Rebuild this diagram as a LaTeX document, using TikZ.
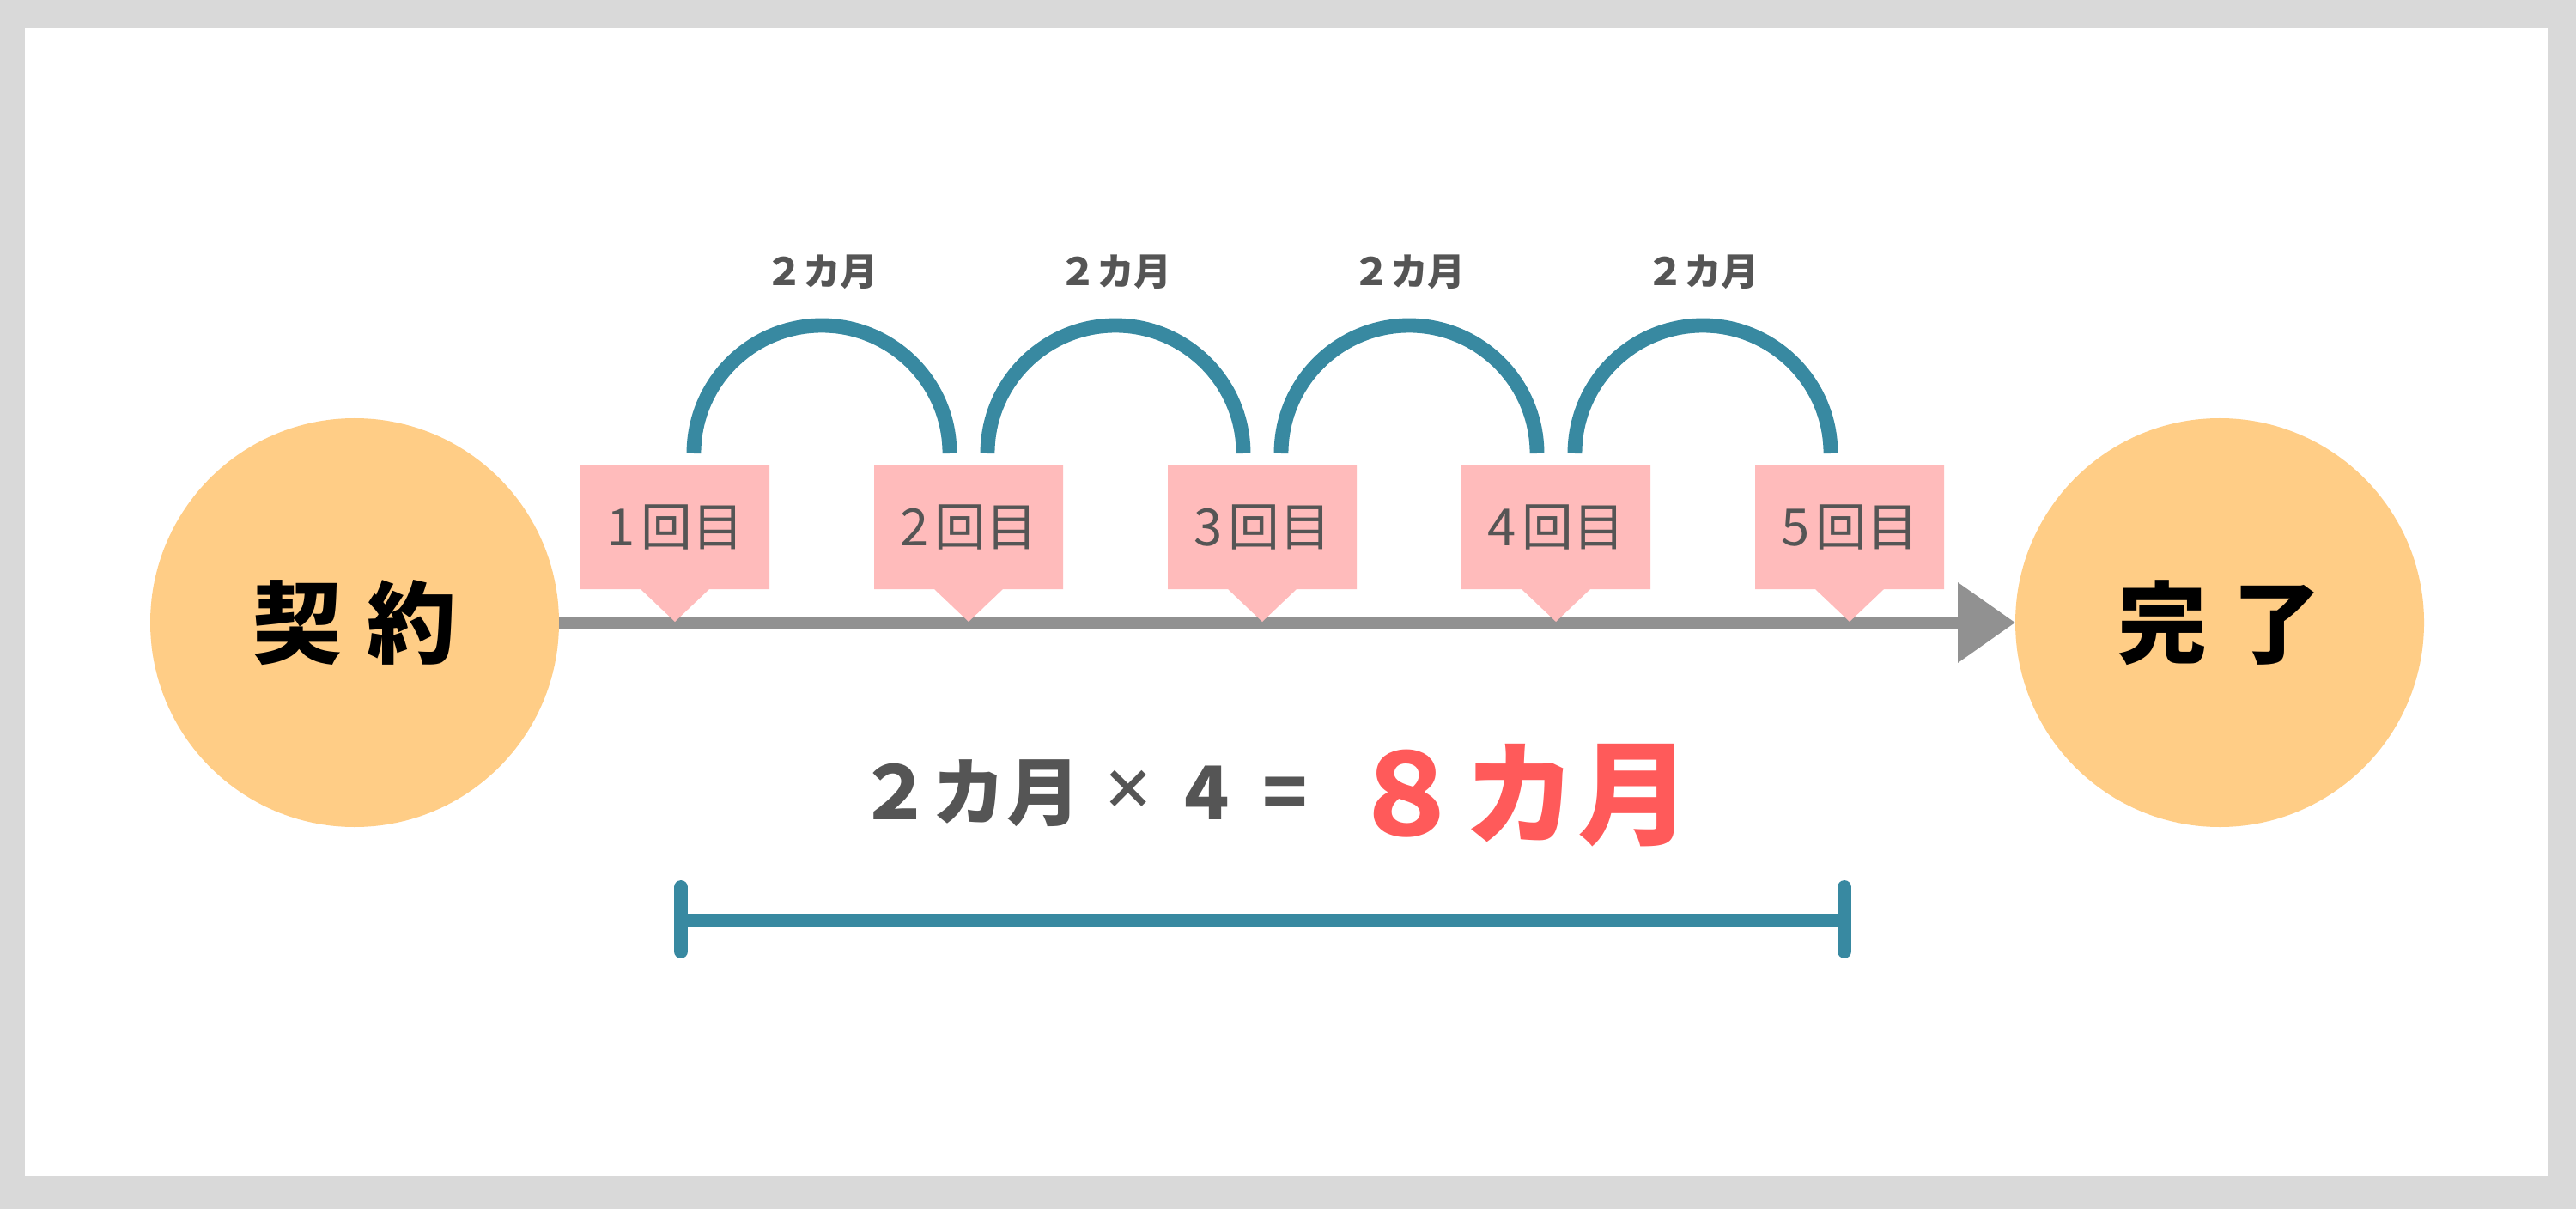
\documentclass[tikz,border=0pt]{standalone}
\usepackage{fontspec}
\setmainfont{Noto Sans CJK JP}
\usetikzlibrary{arrows.meta,shapes.callouts}

\definecolor{frame}{HTML}{D9D9D9}
\definecolor{peach}{HTML}{FFCD86}
\definecolor{blush}{HTML}{FFBBBB}
\definecolor{sea}{HTML}{3889A1}
\definecolor{ink}{HTML}{555555}
\definecolor{track}{HTML}{919191}
\definecolor{result}{HTML}{FF5A5A}

\begin{document}
\begin{tikzpicture}[
    endpoint/.style={circle, fill=peach, minimum size=4.76cm, inner sep=0pt,
        outer sep=0pt, font=\bfseries\fontsize{29.6pt}{32pt}\selectfont},
    visit/.style={rectangle callout, fill=blush, minimum width=2.2cm,
        minimum height=1.44cm, inner sep=0pt, callout pointer width=0.8cm,
        text=ink, font=\fontsize{17pt}{20pt}\selectfont},
    period/.style={anchor=base, text=ink,
        font=\bfseries\fontsize{12.5pt}{15pt}\selectfont},
    sum/.style={anchor=base, text=ink,
        font=\bfseries\fontsize{24.5pt}{28pt}\selectfont},
    total/.style={anchor=base, text=result,
        font=\bfseries\fontsize{37.6pt}{42pt}\selectfont},
    edge/.style={line width=4pt, track, -{Triangle[length=6.7mm, width=9mm]}},
    hop/.style={line width=4.8pt, sea},
    span/.style={line width=4.5pt, sea, line cap=round}
]
    % frame
    \fill[frame] (0,0) rectangle (30,14.08);
    \fill[white] (0.29,0.39) rectangle (29.67,13.75);

    \node[endpoint] (contract) at (4.13,6.83) {契\kern8pt 約};
    \node[endpoint] (finish) at (25.85,6.83) {完\kern8pt 了};
    \draw[edge] (contract) -- (finish);

    \node[visit, callout absolute pointer={(7.86,6.84)}] (visit1) at (7.86,7.94) {1\kern2pt 回目};
    \node[visit, callout absolute pointer={(11.28,6.84)}] (visit2) at (11.28,7.94) {2\kern2pt 回目};
    \node[visit, callout absolute pointer={(14.70,6.84)}] (visit3) at (14.70,7.94) {3\kern2pt 回目};
    \node[visit, callout absolute pointer={(18.12,6.84)}] (visit4) at (18.12,7.94) {4\kern2pt 回目};
    \node[visit, callout absolute pointer={(21.54,6.84)}] (visit5) at (21.54,7.94) {5\kern2pt 回目};

    \draw[hop] (8.08,8.80) arc[start angle=180, end angle=0, radius=1.49];
    \draw[hop] (11.50,8.80) arc[start angle=180, end angle=0, radius=1.49];
    \draw[hop] (14.92,8.80) arc[start angle=180, end angle=0, radius=1.49];
    \draw[hop] (18.34,8.80) arc[start angle=180, end angle=0, radius=1.49];
    \node[period] (gap1) at (9.57,10.75) {２カ月};
    \node[period] (gap2) at (12.99,10.75) {２カ月};
    \node[period] (gap3) at (16.41,10.75) {２カ月};
    \node[period] (gap4) at (19.83,10.75) {２カ月};

    \node[sum] (twomonths) at (11.29,4.54) {２カ月};
    \node[sum, font=\bfseries\fontsize{18pt}{20pt}\selectfont] (times) at (13.14,4.66) {×};
    \node[sum] (four) at (14.06,4.54) {4};
    \node[sum] (equals) at (14.97,4.54) {=};
    \node[total] (eightmonths) at (17.71,4.35) {８カ月};

    \coordinate (spanL) at (7.93,3.36);
    \coordinate (spanR) at (21.48,3.36);
    \coordinate (spanLtop) at (7.93,3.75);
    \coordinate (spanLbot) at (7.93,3.00);
    \coordinate (spanRtop) at (21.48,3.75);
    \coordinate (spanRbot) at (21.48,3.00);
    \draw[span] (spanL) -- (spanR);
    \draw[span] (spanLtop) -- (spanLbot);
    \draw[span] (spanRtop) -- (spanRbot);
\end{tikzpicture}
\end{document}
